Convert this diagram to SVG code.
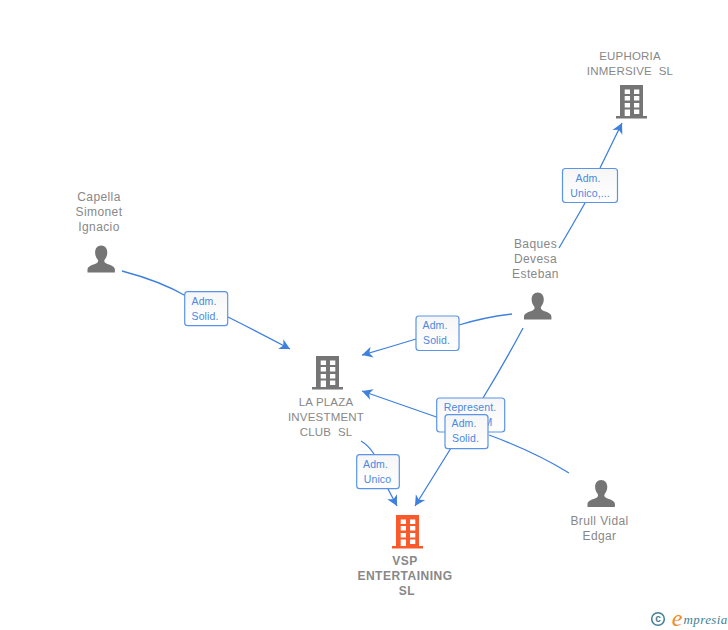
<svg xmlns="http://www.w3.org/2000/svg" width="728" height="630" viewBox="0 0 728 630">
<style>
text{font-family:"Liberation Sans",Arial,sans-serif;text-anchor:middle;white-space:pre}
.n{font-size:12px;fill:#888;letter-spacing:.4px}
.c{font-size:11.500px;fill:#888;letter-spacing:.2px}
.v{font-size:12px;font-weight:bold;fill:#888;letter-spacing:.5px}
.l{font-size:10.500px;fill:#4a88e2;letter-spacing:.1px}
.b{fill:url(#g);stroke:#5a94e8;stroke-width:1.200}
.e{fill:none;stroke:#3f80de;stroke-width:1.300;marker-end:url(#a)}
.g{fill:#757575}
.o{fill:#fa5a2b}
.w{fill:#fff}
</style>
<defs>
<linearGradient id="g" x1="0" y1="0" x2="0" y2="1"><stop offset="0" stop-color="#f6f6f6"/><stop offset="1" stop-color="#fff"/></linearGradient>
<marker id="a" markerUnits="userSpaceOnUse" markerWidth="14" markerHeight="14" viewBox="-12 -7 14 14" refX="0" refY="0" orient="auto"><path d="M0 0L-10.500 -5.500L-7.500 0L-10.500 5.500Z" fill="#3f80de"/></marker>
<g id="bld"><path d="M4 0H27V31H31V33.500H0V31H4Z"/><path class="w" d="M8.700 4.500H14V9H8.700ZM18 4.500H23.300V9H18ZM8.700 11H14V15.500H8.700ZM18 11H23.300V15.500H18ZM8.700 18H14V22.500H8.700ZM18 18H23.300V22.500H18ZM8.700 24.500H14V31H8.700ZM18 24.500H23.300V29H18Z"/></g>
<path id="per" d="M13.700 0C9.800 0 7.600 3 7.600 6.800C7.600 10 8.800 12.500 10.500 14.500C10.700 16 10.300 17 9 17.700C5 19.500 .2 20.500 0 24V27H27.400V24C27.200 20.500 22.400 19.500 18.400 17.700C17.100 17 16.700 16 16.900 14.500C18.600 12.500 19.800 10 19.800 6.800C19.800 3 17.600 0 13.700 0Z"/>
</defs>
<rect width="728" height="630" fill="#fff"/>
<g id="connectors">
<path class="e" d="M122 271Q160 281 186 296M228 317Q260 333 290 349"/>
<path class="e" d="M512 314Q485 317 459 325M416 339Q390 347 362 355"/>
<path class="e" d="M559 248Q572 226 585 203M600 168L622 123"/>
<path class="e" d="M523 328Q505 362 483 398M451 448L415 506"/>
<path class="e" d="M569 473Q535 452 489 435M445 420L362 391"/>
<path class="e" d="M361 441Q368 445 374 454M388 489L397 506"/>
</g>
<g id="node-euphoria"><use href="#bld" x="616" y="85" class="g"/><text class="c" x="630" y="60">EUPHORIA</text><text class="c" x="630" y="75">INMERSIVE  SL</text></g>
<g id="node-capella"><use href="#per" x="87.500" y="245.500" class="g"/><text class="n" x="99" y="201">Capella</text><text class="n" x="99" y="216">Simonet</text><text class="n" x="99" y="231">Ignacio</text></g>
<g id="node-baques"><use href="#per" x="524" y="292.500" class="g"/><text class="n" x="535.500" y="248">Baques</text><text class="n" x="535.500" y="263">Devesa</text><text class="n" x="535.500" y="278">Esteban</text></g>
<g id="node-laplaza"><use href="#bld" x="312" y="356" class="g"/><text class="c" x="326" y="406">LA PLAZA</text><text class="c" x="326" y="421">INVESTMENT</text><text class="c" x="326" y="436">CLUB  SL</text></g>
<g id="node-brull"><use href="#per" x="587.500" y="480" class="g"/><text class="n" x="599.500" y="525">Brull Vidal</text><text class="n" x="599.500" y="540">Edgar</text></g>
<g id="node-vsp"><use href="#bld" x="392" y="515" class="o"/><text class="v" x="405" y="565">VSP</text><text class="v" x="405" y="580">ENTERTAINING</text><text class="v" x="407" y="595">SL</text></g>
<g id="label-1"><rect class="b" x="184.700" y="291.700" width="43" height="34" rx="3"/><text class="l" x="204" y="305">Adm.</text><text class="l" x="205" y="320">Solid.</text></g>
<g id="label-2"><rect class="b" x="416" y="316" width="43" height="34.500" rx="3"/><text class="l" x="435" y="329">Adm.</text><text class="l" x="436.500" y="344">Solid.</text></g>
<g id="label-3"><rect class="b" x="562.500" y="168.500" width="55" height="34" rx="3"/><text class="l" x="588" y="182">Adm.</text><text class="l" x="590" y="197">Unico,...</text></g>
<g id="label-4"><rect class="b" x="436.700" y="398" width="68" height="34" rx="3"/><text class="l" x="470" y="411">Represent.</text><text class="l" x="488" y="426">M</text></g>
<g id="label-5"><rect class="b" x="445" y="414.700" width="43" height="34" rx="3"/><text class="l" x="464" y="427">Adm.</text><text class="l" x="465.500" y="442">Solid.</text></g>
<g id="label-6"><rect class="b" x="356.700" y="454.700" width="42.600" height="34" rx="3"/><text class="l" x="375.500" y="468">Adm.</text><text class="l" x="377.500" y="483">Unico</text></g>
<g id="logo"><circle cx="658" cy="619" r="6.300" fill="none" stroke="#3f7f95" stroke-width="1.500"/><text x="658" y="622.300" style="font-size:10px;fill:#3f7f95;font-weight:bold">c</text><text x="677" y="626" style="font-family:'Liberation Serif',serif;font-style:italic;font-size:24px;fill:#f08a1d">e</text><text x="683.500" y="624" style="text-anchor:start;font-family:'Liberation Serif',serif;font-style:italic;font-size:13px;fill:#3f7f95;letter-spacing:.4px">mpresia</text></g>
</svg>
